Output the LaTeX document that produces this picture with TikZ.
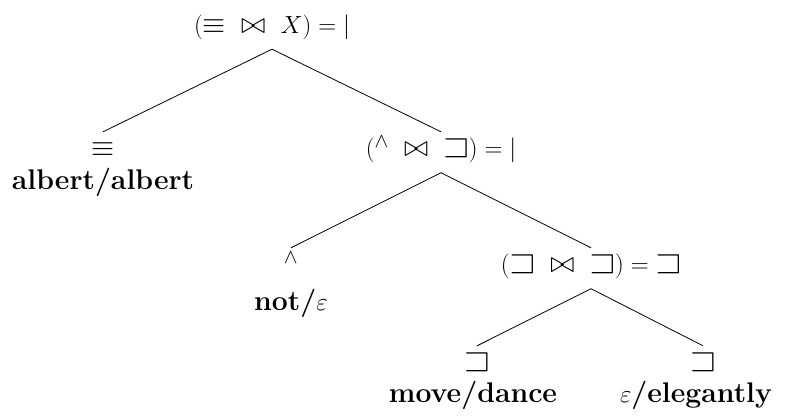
\documentclass[tikz,border=0pt]{standalone}
\usepackage{amsmath,amssymb,graphicx}
\newcommand\Ssq{\mathord{\scalebox{1.2}{$\sqsupset$}}}
\newcommand\Beq{\mathord{\scalebox{1.2}{$\equiv$}}}
\newcommand\Bjoin{\mathrel{\scalebox{1.2}{$\bowtie$}}}
\newcommand\MyCaret{\mathord{{}^{\wedge}}}
\begin{document}
\begin{tikzpicture}[x=1bp,y=-1bp,
  lab/.style={font=\fontsize{27.5}{32}\selectfont, inner sep=4bp, anchor=base, text height=20.5bp, text depth=12bp},
  word/.style={font=\fontsize{28.5}{33}\selectfont\bfseries, inner sep=0pt, anchor=base},
  edge/.style={draw=black, line width=0.8bp}]
\useasboundingbox (0,0) rectangle (791,419);
\node[lab] (root) at (272,33) {$(\Beq\ \Bjoin\ X) = |$};
\node[lab] (a) at (103,156.5) {$\Beq$};
\node[word] (aw) at (103,189) {albert/albert};
\node[lab] (b) at (441,156.5) {$(\MyCaret\ \Bjoin\ \Ssq) = |$};
\node[lab] (c) at (291,272.5) {$\MyCaret$};
\node[word] (cw) at (291,310) {not/$\varepsilon$};
\node[lab] (d) at (591,272.5) {$(\Ssq\ \Bjoin\ \Ssq) = \Ssq$};
\node[lab] (e) at (477,370.5) {$\Ssq$};
\node[word] (ew) at (473,402) {move/dance};
\node[lab] (f) at (703,370.5) {$\Ssq$};
\node[word] (fw) at (696,402) {$\varepsilon$/elegantly};
\draw[edge] (root.south) -- (a.north);
\draw[edge] (root.south) -- (b.north);
\draw[edge] (b.south) -- (c.north);
\draw[edge] (b.south) -- (d.north);
\draw[edge] (d.south) -- (e.north);
\draw[edge] (d.south) -- (f.north);
\end{tikzpicture}
\end{document}
